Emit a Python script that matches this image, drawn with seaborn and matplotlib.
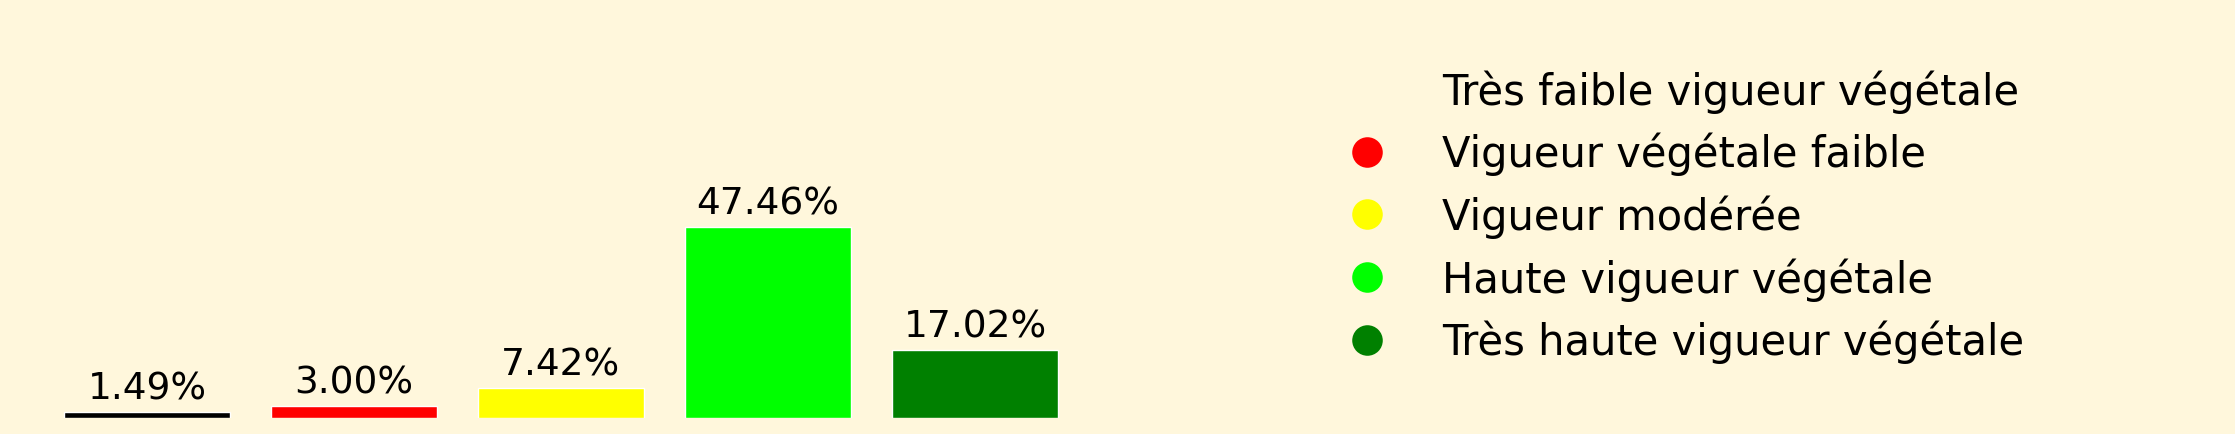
import pandas as pd
import matplotlib
matplotlib.use("Agg")
import matplotlib.pyplot as plt
from matplotlib.lines import Line2D
import seaborn as sns

sns.set_theme(style="white")
plt.rcParams['font.family'] = ['DejaVu Sans']
plt.rcParams['text.color'] = 'black'

categories = ["Très faible vigueur végétale", "Vigueur végétale faible", "Vigueur modérée",
              "Haute vigueur végétale", "Très haute vigueur végétale"]
percent = [1.49, 3.00, 7.42, 47.46, 17.02]
colors = ["#000000", "#ff0000", "#ffff00", "#00ff00", "#008000"]

df = pd.DataFrame({"classe": categories, "pct": percent})
bg = "#fff7dc"

fig = plt.figure(figsize=(22.35, 4.35), dpi=100, facecolor=bg)
ax = fig.add_axes([14.5 / 2235, 16 / 435, 1093 / 2235, 402 / 435])
ax.set_facecolor(bg)

sns.barplot(data=df, x="classe", y="pct", hue="classe", palette=colors,
            order=categories, hue_order=categories, width=0.8, saturation=1,
            legend=False, ax=ax)
for c in ax.containers:
    ax.bar_label(c, fmt="%.2f%%", fontsize=27, padding=4, color="black")
ax.set_ylim(0, 100)
ax.set_xlim(-0.64, 4.64)
ax.axis("off")

# legend: first entry has no visible marker
handles = []
for i, col in enumerate(colors):
    mc = "none" if i == 0 else col
    handles.append(Line2D([], [], linestyle="none", marker="o", markersize=22,
                          markerfacecolor=mc, markeredgecolor="none"))
fig.legend(handles, categories, loc="upper left", bbox_to_anchor=(1325 / 2235, 1 - 70 / 435),
           frameon=False, fontsize=30, labelspacing=0.46, handletextpad=0.8,
           borderpad=0, borderaxespad=0, labelcolor="black")

fig.savefig("out.png", dpi=100, facecolor=bg)
